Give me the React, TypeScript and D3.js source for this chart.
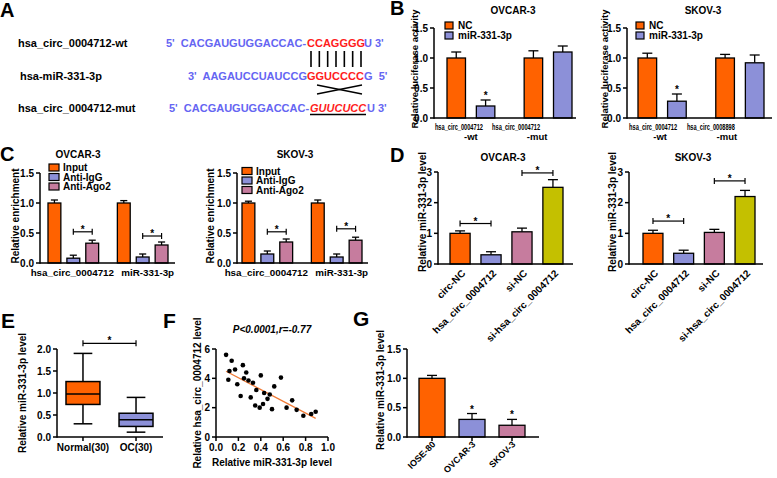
import React from "react";
import * as d3 from "d3";

const FONT = "Arial, 'Liberation Sans', sans-serif";
const ORANGE = "#ff6200";
const BLUE = "#8c90d8";
const PINK = "#c67c9e";
const OLIVE = "#c4c000";
const SEQ_BLUE = "#6565f2";
const SEQ_RED = "#ff1c1c";
const LINE_ORANGE = "#f07a35";

// ---------- Panel A
const aLabels = ["hsa_circ_0004712-wt", "hsa-miR-331-3p", "hsa_circ_0004712-mut"];
const aSeqs = [
  ["5'  CACGAUGUGGACCAC-", "CCAGGGG", "U 3'"],
  ["3'  AAGAUCCUAUCCG", "GGUCCCC", "G  5'"],
  ["5'  CACGAUGUGGACCAC-", "GUUCUCC", "U 3'"],
];
const aPairCount = 7;

// ---------- Panel B
const bSeries = ["NC", "miR-331-3p"];
const bOvcarLabels = [["hsa_circ_0004712", "-wt"], ["hsa_circ_0004712", "-mut"]];
const bOvcarMean = [[1.0, 0.2], [1.0, 1.1]];
const bOvcarErr = [[0.1, 0.1], [0.12, 0.1]];
const bOvcarSig = [[0, 1], [0, 0]];
const bSkovLabels = [["hsa_circ_0004712", "-wt"], ["hsa_circ_0008898", "-mut"]];
const bSkovMean = [[1.0, 0.28], [1.0, 0.92]];
const bSkovErr = [[0.08, 0.12], [0.06, 0.13]];
const bSkovSig = [[0, 1], [0, 0]];
const bTicks = [0, 0.5, 1.0, 1.5];

// ---------- Panel C
const cSeries = ["Input", "Anti-IgG", "Anti-Ago2"];
const cGroups = ["hsa_circ_0004712", "miR-331-3p"];
const cOvcarMean = [[1.0, 0.08, 0.33], [1.0, 0.1, 0.3]];
const cOvcarErr = [[0.05, 0.05, 0.05], [0.04, 0.05, 0.05]];
const cOvcarBracket = [0.52, 0.45];
const cSkovMean = [[1.0, 0.15, 0.35], [1.0, 0.1, 0.38]];
const cSkovErr = [[0.03, 0.05, 0.05], [0.05, 0.05, 0.05]];
const cSkovBracket = [0.52, 0.57];
const cTicks = [0, 0.5, 1.0, 1.5];

// ---------- Panel D
const dCats = ["circ-NC", "hsa_circ_0004712", "si-NC", "si-hsa_circ_0004712"];
const dOvcarMean = [1.0, 0.3, 1.05, 2.5];
const dOvcarErr = [0.08, 0.1, 0.12, 0.25];
const dOvcarBrackets = [[0, 1, 1.32], [2, 3, 2.97]];
const dSkovMean = [1.0, 0.35, 1.03, 2.2];
const dSkovErr = [0.1, 0.1, 0.1, 0.2];
const dSkovBrackets = [[0, 1, 1.4], [2, 3, 2.71]];
const dTicks = [0, 1, 2, 3];

// ---------- Panel E
const eCats = ["Normal(30)", "OC(30)"];
const eMin = [0.3, 0.11];
const eQ1 = [0.74, 0.24];
const eMed = [0.98, 0.39];
const eQ3 = [1.26, 0.54];
const eMax = [1.9, 0.9];
const eBracket = 2.13;
const eTicks = [0, 0.5, 1.0, 1.5, 2.0];

// ---------- Panel F
const fX = [0.09, 0.14, 0.12, 0.17, 0.24, 0.27, 0.11, 0.25, 0.29, 0.33, 0.4, 0.58, 0.52, 0.19, 0.36,
  0.43, 0.48, 0.22, 0.31, 0.46, 0.35, 0.42, 0.39, 0.5, 0.63, 0.68, 0.72, 0.78, 0.85, 0.89];
const fY = [5.6, 5.2, 4.5, 4.6, 4.9, 4.4, 3.9, 4.0, 3.85, 3.7, 4.2, 4.05, 3.45, 3.6, 3.2,
  3.0, 2.9, 2.8, 2.7, 2.6, 2.15, 2.25, 2.0, 1.9, 2.0, 2.5, 1.85, 1.45, 1.57, 1.72];
const fXTicks = [0, 0.2, 0.4, 0.6, 0.8, 1.0];
const fYTicks = [0, 2, 4, 6];

// ---------- Panel G
const gCats = ["IOSE-80", "OVCAR-3", "SKOV-3"];
const gMean = [1.0, 0.3, 0.2];
const gErr = [0.05, 0.1, 0.1];
const gSig = [0, 1, 1];
const gTicks = [0, 0.5, 1.0, 1.5];

const fmt1 = d3.format(".1f");
const fmt0 = d3.format("d");

function YAxis({ y, x, ticks, fmt }: any) {
  return (
    <g>
      <line x1={x} x2={x} y1={y(ticks[0]) + 0.75} y2={y(ticks[ticks.length - 1])} stroke="#000" strokeWidth={1.5} />
      {ticks.map((t: number) => (
        <g key={t}>
          <line x1={x - 4} x2={x} y1={y(t)} y2={y(t)} stroke="#000" strokeWidth={1.5} />
          <text x={x - 6} y={y(t)} dy="0.35em" textAnchor="end" fontSize={10}>{fmt(t)}</text>
        </g>
      ))}
    </g>
  );
}

function XLine({ x1, x2, y }: any) {
  return <line x1={x1} x2={x2} y1={y} y2={y} stroke="#000" strokeWidth={1.5} />;
}

function YLabel({ x, y, text, size = 10 }: any) {
  return (
    <text transform={`translate(${x},${y}) rotate(-90)`} textAnchor="middle" dy="0.35em" fontSize={size}>{text}</text>
  );
}

function Bracket({ x1, x2, y, h = 3 }: any) {
  return (
    <g stroke="#000" strokeWidth={1.2}>
      <line x1={x1} x2={x2} y1={y} y2={y} />
      <line x1={x1} x2={x1} y1={y - h} y2={y + h} />
      <line x1={x2} x2={x2} y1={y - h} y2={y + h} />
      <text x={(x1 + x2) / 2} y={y + 1} textAnchor="middle" fontSize={10} stroke="none">*</text>
    </g>
  );
}

function Bar({ x, w, v, e, fill, y, sig }: any) {
  const cx = x + w / 2;
  const cap = Math.min(w * 0.55, 10);
  const top = y(v + e);
  return (
    <g>
      <line x1={cx} x2={cx} y1={y(v)} y2={top} stroke="#000" strokeWidth={1.3} />
      <line x1={cx - cap / 2} x2={cx + cap / 2} y1={top} y2={top} stroke="#000" strokeWidth={1.3} />
      <rect x={x} y={y(v)} width={w} height={y(0) - y(v)} fill={fill} stroke="#000" strokeWidth={1.3} />
      {sig ? <text x={cx} y={top - 1} textAnchor="middle" fontSize={10}>*</text> : null}
    </g>
  );
}

function PanelA() {
  const rows = [47, 80, 112];
  const labelX = [18, 20, 18];
  const segX = [[166, 307, 364], [188, 307, 364], [169, 310, 367]];
  return (
    <g>
      <text x={0} y={17} fontSize={20}>A</text>
      {aLabels.map((l, i) => (
        <text key={i} x={labelX[i]} y={rows[i]} fontSize={11}>{l}</text>
      ))}
      {aSeqs.map((s, i) => (
        <g key={"s" + i} fontSize={11}>
          {s.map((seg, j) => (
            <text key={j} x={segX[i][j]} y={rows[i]} xmlSpace="preserve" style={{ whiteSpace: "pre" }}
              fill={j === 1 ? SEQ_RED : SEQ_BLUE} fontStyle={i === 2 && j === 1 ? "italic" : "normal"}>{seg}</text>
          ))}
        </g>
      ))}
      {d3.range(aPairCount).map((i) => {
        const x = 311 + (i * 50) / (aPairCount - 1);
        return <line key={"p" + i} x1={x} x2={x} y1={51} y2={67} stroke="#000" strokeWidth={1.6} />;
      })}
      <line x1={317} y1={85} x2={362} y2={94} stroke="#000" strokeWidth={1.4} />
      <line x1={317} y1={94} x2={362} y2={85} stroke="#000" strokeWidth={1.4} />
      <line x1={310} x2={366} y1={114.5} y2={114.5} stroke="#000" strokeWidth={1.5} />
    </g>
  );
}

function PanelB({ title, titleX, letter, axisX, axisEnd, x0, x1, means, errs, sig, labels, l1Off, l2Off, legendX, ylabelX }: any) {
  const y = d3.scaleLinear().domain([0, 1.5]).range([118, 28]);
  const gx = d3.scaleBand<number>().domain(d3.range(means.length)).range([x0, x1]).paddingInner(0.38).paddingOuter(0);
  const sx = d3.scaleBand<number>().domain(d3.range(bSeries.length)).range([0, gx.bandwidth()]).paddingInner(0.37).paddingOuter(0);
  const colors = [ORANGE, BLUE];
  return (
    <g>
      {letter ? <text x={390} y={15} fontSize={20}>{letter}</text> : null}
      <text x={titleX} y={14} textAnchor="middle" fontSize={10}>{title}</text>
      {means.map((g: number[], gi: number) =>
        g.map((v, si) => (
          <Bar key={gi + "-" + si} x={(gx(gi) as number) + (sx(si) as number)} w={sx.bandwidth()} v={v} e={errs[gi][si]} fill={colors[si]} y={y} sig={sig[gi][si]} />
        ))
      )}
      <YAxis y={y} x={axisX} ticks={bTicks} fmt={fmt1} />
      <XLine x1={axisX} x2={axisEnd} y={y(0)} />
      {labels.map((l: string[], gi: number) => {
        const c = (gx(gi) as number) + gx.bandwidth() / 2;
        return (
          <g key={"l" + gi}>
            <text x={c + l1Off[gi]} y={130} textAnchor="middle" fontSize={9.5} textLength={48} lengthAdjust="spacingAndGlyphs">{l[0]}</text>
            <text x={c + l2Off[gi]} y={140} textAnchor="middle" fontSize={9.5}>{l[1]}</text>
          </g>
        );
      })}
      {bSeries.map((s, i) => (
        <g key={s}>
          <rect x={legendX} y={22 + i * 10} width={8} height={7} fill={colors[i]} stroke="#000" strokeWidth={1.2} />
          <text x={legendX + 13} y={25.5 + i * 10} dy="0.35em" fontSize={10}>{s}</text>
        </g>
      ))}
      <YLabel x={ylabelX} y={69} text="Relative luciferase activity" size={9.5} />
    </g>
  );
}

function PanelC({ title, titleX, letter, axisX, axisEnd, x0, x1, means, errs, brackets, legendX, legendY, ylabelX, labOff }: any) {
  const y = d3.scaleLinear().domain([0, 1.5]).range([263, 173]);
  const gx = d3.scaleBand<number>().domain(d3.range(means.length)).range([x0, x1]).paddingInner(0.27).paddingOuter(0);
  const sx = d3.scaleBand<number>().domain(d3.range(cSeries.length)).range([0, gx.bandwidth()]).paddingInner(0.32).paddingOuter(0);
  const colors = [ORANGE, BLUE, PINK];
  return (
    <g>
      {letter ? <text x={0} y={161} fontSize={20}>{letter}</text> : null}
      <text x={titleX} y={158} textAnchor="middle" fontSize={10}>{title}</text>
      {means.map((g: number[], gi: number) =>
        g.map((v, si) => (
          <Bar key={gi + "-" + si} x={(gx(gi) as number) + (sx(si) as number)} w={sx.bandwidth()} v={v} e={errs[gi][si]} fill={colors[si]} y={y} />
        ))
      )}
      {brackets.map((b: number, gi: number) => {
        const a = (gx(gi) as number) + (sx(1) as number) + sx.bandwidth() / 2;
        const c = (gx(gi) as number) + (sx(2) as number) + sx.bandwidth() / 2;
        return <Bracket key={"b" + gi} x1={a} x2={c} y={y(b)} />;
      })}
      <YAxis y={y} x={axisX} ticks={cTicks} fmt={fmt1} />
      <XLine x1={axisX} x2={axisEnd} y={y(0)} />
      {cGroups.map((l, gi) => (
        <text key={l} x={(gx(gi) as number) + gx.bandwidth() / 2 + labOff[gi]} y={276} textAnchor="middle" fontSize={9.8}>{l}</text>
      ))}
      {cSeries.map((s, i) => (
        <g key={s}>
          <rect x={legendX} y={legendY + i * 9.5 - 3.5} width={10} height={7} fill={colors[i]} stroke="#000" strokeWidth={1.2} />
          <text x={legendX + 14} y={legendY + i * 9.5} dy="0.35em" fontSize={10}>{s}</text>
        </g>
      ))}
      <YLabel x={ylabelX} y={216} text="Relative enrichment" />
    </g>
  );
}

function PanelD({ title, titleX, letter, axisX, axisEnd, x0, x1, means, errs, brackets, ylabelX }: any) {
  const y = d3.scaleLinear().domain([0, 3]).range([264, 172]);
  const x = d3.scaleBand<number>().domain(d3.range(dCats.length)).range([x0, x1]).paddingInner(0.35).paddingOuter(0);
  const colors = [ORANGE, BLUE, PINK, OLIVE];
  const cx = (i: number) => (x(i) as number) + x.bandwidth() / 2;
  return (
    <g>
      {letter ? <text x={390} y={162} fontSize={20}>{letter}</text> : null}
      <text x={titleX} y={161} textAnchor="middle" fontSize={10}>{title}</text>
      {means.map((v: number, i: number) => (
        <Bar key={i} x={x(i)} w={x.bandwidth()} v={v} e={errs[i]} fill={colors[i]} y={y} />
      ))}
      {brackets.map((b: number[], i: number) => (
        <Bracket key={"b" + i} x1={cx(b[0])} x2={cx(b[1])} y={y(b[2])} />
      ))}
      <YAxis y={y} x={axisX} ticks={dTicks} fmt={fmt0} />
      <XLine x1={axisX} x2={axisEnd} y={y(0)} />
      {dCats.map((c, i) => (
        <text key={c} transform={`translate(${cx(i) + 6},${y(0) + 10}) rotate(-45)`} textAnchor="end" fontSize={10}>{c}</text>
      ))}
      <YLabel x={ylabelX} y={212} text="Relative miR-331-3p level" />
    </g>
  );
}

function PanelE() {
  const y = d3.scaleLinear().domain([0, 2]).range([437, 349]);
  const x = d3.scaleBand<number>().domain(d3.range(eCats.length)).range([66, 153]).paddingInner(0.36).paddingOuter(0);
  const colors = [ORANGE, BLUE];
  const cx = (i: number) => (x(i) as number) + x.bandwidth() / 2;
  const w = x.bandwidth();
  const cap = w * 0.55;
  return (
    <g>
      <text x={1} y={328} fontSize={21}>E</text>
      {eCats.map((c, i) => (
        <g key={c} stroke="#000" strokeWidth={1.5}>
          <line x1={cx(i)} x2={cx(i)} y1={y(eMax[i])} y2={y(eQ3[i])} />
          <line x1={cx(i)} x2={cx(i)} y1={y(eQ1[i])} y2={y(eMin[i])} />
          <line x1={cx(i) - cap / 2} x2={cx(i) + cap / 2} y1={y(eMax[i])} y2={y(eMax[i])} />
          <line x1={cx(i) - cap / 2} x2={cx(i) + cap / 2} y1={y(eMin[i])} y2={y(eMin[i])} />
          <rect x={x(i)} y={y(eQ3[i])} width={w} height={y(eQ1[i]) - y(eQ3[i])} fill={colors[i]} />
          <line x1={x(i)} x2={(x(i) as number) + w} y1={y(eMed[i])} y2={y(eMed[i])} />
        </g>
      ))}
      <Bracket x1={cx(0)} x2={cx(1)} y={y(eBracket)} />
      <YAxis y={y} x={57} ticks={eTicks} fmt={fmt1} />
      <XLine x1={57} x2={163} y={y(0)} />
      {eCats.map((c, i) => (
        <g key={"t" + c}>
          <line x1={cx(i)} x2={cx(i)} y1={y(0)} y2={y(0) + 4} stroke="#000" strokeWidth={1.5} />
          <text x={cx(i)} y={451} textAnchor="middle" fontSize={10}>{c}</text>
        </g>
      ))}
      <YLabel x={22} y={393} text="Relative miR-331-3p level" />
    </g>
  );
}

function PanelF() {
  const x = d3.scaleLinear().domain([0, 1]).range([216, 328]);
  const y = d3.scaleLinear().domain([0, 6]).range([437, 349]);
  const mx = d3.mean(fX) as number;
  const my = d3.mean(fY) as number;
  let sxy = 0, sxx = 0;
  fX.forEach((v, i) => { sxy += (v - mx) * (fY[i] - my); sxx += (v - mx) * (v - mx); });
  const slope = sxy / sxx;
  const icpt = my - slope * mx;
  const xa = d3.min(fX) as number;
  const xb = d3.max(fX) as number;
  return (
    <g>
      <text x={163} y={328} fontSize={21}>F</text>
      <text x={272} y={333} textAnchor="middle" fontSize={10} fontStyle="italic">P&lt;0.0001,r=-0.77</text>
      <line x1={x(xa)} x2={x(xb)} y1={y(icpt + slope * xa)} y2={y(icpt + slope * xb)} stroke={LINE_ORANGE} strokeWidth={1.3} />
      {fX.map((v, i) => (
        <circle key={i} cx={x(v)} cy={y(fY[i])} r={2.3} fill="#000" />
      ))}
      <YAxis y={y} x={216} ticks={fYTicks} fmt={fmt0} />
      <XLine x1={216} x2={328} y={y(0)} />
      {fXTicks.map((t) => (
        <g key={t}>
          <line x1={x(t)} x2={x(t)} y1={y(0)} y2={y(0) + 4} stroke="#000" strokeWidth={1.5} />
          <text x={x(t)} y={451} textAnchor="middle" fontSize={10}>{fmt1(t)}</text>
        </g>
      ))}
      <text x={272} y={466} textAnchor="middle" fontSize={10}>Relative miR-331-3p level</text>
      <YLabel x={197} y={393} text="Relative hsa_circ_0004712 level" />
    </g>
  );
}

function PanelG() {
  const y = d3.scaleLinear().domain([0, 1.5]).range([437, 349]);
  const x = d3.scaleBand<number>().domain(d3.range(gCats.length)).range([419, 525]).paddingInner(0.35).paddingOuter(0);
  const colors = [ORANGE, BLUE, PINK];
  const cx = (i: number) => (x(i) as number) + x.bandwidth() / 2;
  return (
    <g>
      <text x={353} y={326} fontSize={21}>G</text>
      {gMean.map((v, i) => (
        <Bar key={i} x={x(i)} w={x.bandwidth()} v={v} e={gErr[i]} fill={colors[i]} y={y} sig={gSig[i]} />
      ))}
      <YAxis y={y} x={407} ticks={gTicks} fmt={fmt1} />
      <XLine x1={407} x2={539} y={y(0)} />
      {gCats.map((c, i) => (
        <g key={c}>
          <line x1={cx(i)} x2={cx(i)} y1={y(0)} y2={y(0) + 4} stroke="#000" strokeWidth={1.5} />
          <text transform={`translate(${cx(i) + 4},${y(0) + 8}) rotate(-45)`} textAnchor="end" fontSize={9}>{c}</text>
        </g>
      ))}
      <YLabel x={380} y={390} text="Relative miR-331-3p level" />
    </g>
  );
}

export default function App() {
  return (
    <svg width={777} height={478} style={{ position: "absolute", left: 0, top: 0 }} fontFamily={FONT} fontWeight="bold">
      <rect width={777} height={478} fill="#fff" />
      <PanelA />
      <PanelB title="OVCAR-3" titleX={513} letter="B" axisX={434} axisEnd={576} x0={447} x1={572}
        means={bOvcarMean} errs={bOvcarErr} sig={bOvcarSig} labels={bOvcarLabels}
        l1Off={[-12, -32]} l2Off={[0, -11]} legendX={445} ylabelX={415} />
      <PanelB title="SKOV-3" titleX={703} axisX={627} axisEnd={772} x0={638} x1={764}
        means={bSkovMean} errs={bSkovErr} sig={bSkovSig} labels={bSkovLabels}
        l1Off={[-9, -29]} l2Off={[-2, -13]} legendX={636} ylabelX={605} />
      <PanelC title="OVCAR-3" titleX={78} letter="C" axisX={40} axisEnd={175} x0={48} x1={168}
        means={cOvcarMean} errs={cOvcarErr} brackets={cOvcarBracket} legendX={49} legendY={167.5} ylabelX={15} labOff={[-1, 5]} />
      <PanelC title="SKOV-3" titleX={295} axisX={237} axisEnd={368} x0={242} x1={362}
        means={cSkovMean} errs={cSkovErr} brackets={cSkovBracket} legendX={242} legendY={171} ylabelX={210} labOff={[-1, 5]} />
      <PanelD title="OVCAR-3" titleX={503} letter="D" axisX={438} axisEnd={573} x0={450} x1={563}
        means={dOvcarMean} errs={dOvcarErr} brackets={dOvcarBrackets} ylabelX={422} />
      <PanelD title="SKOV-3" titleX={693} axisX={629} axisEnd={763} x0={643} x1={755}
        means={dSkovMean} errs={dSkovErr} brackets={dSkovBrackets} ylabelX={612} />
      <PanelE />
      <PanelF />
      <PanelG />
    </svg>
  );
}
